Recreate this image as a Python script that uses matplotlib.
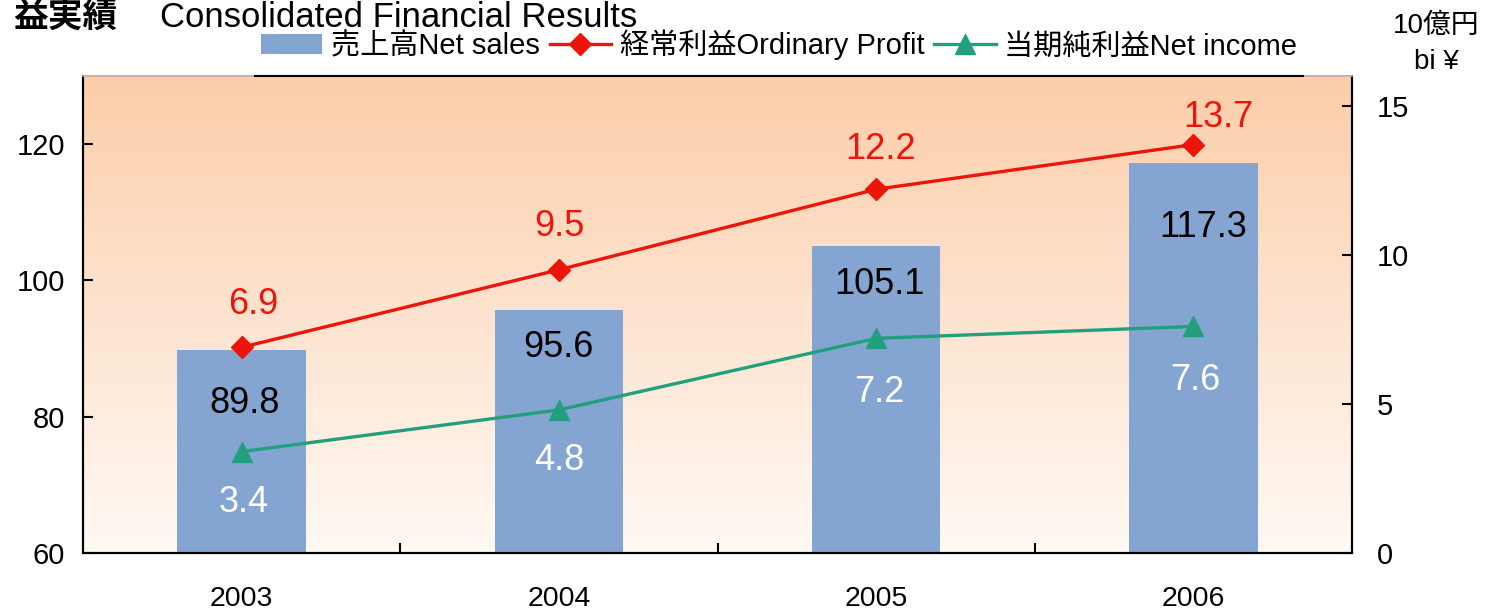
import numpy as np
import matplotlib.pyplot as plt
from matplotlib.lines import Line2D
from matplotlib.patches import Patch

# -----------------------------
# data
# -----------------------------
years = ["2003", "2004", "2005", "2006"]
net_sales = [89.8, 95.6, 105.1, 117.3]
ordinary_profit = [6.9, 9.5, 12.2, 13.7]
net_income = [3.4, 4.8, 7.2, 7.6]

# label offsets in pixels (dx, dy) relative to the mark
sales_off = [(3, -54), (0, -37), (3, -39), (10, -65)]
profit_off = [(12, 43), (0, 43), (4, 40), (25, 27)]
income_off = [(2, -51), (0, -51), (3, -54), (2, -54)]

bar_color = "#84A5D1"
red = "#EE1409"
green = "#22A07E"

plt.rcParams['font.family'] = ['Liberation Sans', 'Noto Sans CJK JP', 'DejaVu Sans']

W, H, DPI = 1485, 610, 100
fig = plt.figure(figsize=(W / DPI, H / DPI), dpi=DPI)
ax = fig.add_axes([83 / W, 1 - 553 / H, (1352 - 83) / W, (553 - 76) / H])
ax2 = ax.twinx()

x = np.arange(len(years))

# background gradient
grad = np.linspace(0, 1, 256).reshape(-1, 1)
top_c = np.array([252, 206, 170]) / 255
bot_c = np.array([255, 249, 244]) / 255
img = top_c * (1 - grad[..., None]) + bot_c * grad[..., None]
img = img.reshape(256, 1, 3)
ax.imshow(img, extent=[-0.5, 3.5, 60, 130], aspect="auto", origin="upper", zorder=0)

# bars
ax.bar(x, net_sales, width=0.405, color=bar_color, zorder=2)
ax.set_xlim(-0.5, 3.5)
ax.set_ylim(60, 130)
ax.set_yticks([60, 80, 100, 120])

# lines
ax2.plot(x, ordinary_profit, color=red, lw=2.4, marker="D", ms=11, zorder=3)
ax2.plot(x, net_income, color=green, lw=2.4, marker="^", ms=15, zorder=3)
ax2.set_ylim(0, 16)
ax2.set_yticks([0, 5, 10, 15])

px = 72 / DPI
for i in range(len(years)):
    ax.annotate(f"{net_sales[i]}", (x[i], net_sales[i]),
                xytext=(sales_off[i][0] * px, sales_off[i][1] * px),
                textcoords="offset points", ha="center", va="center",
                fontsize=26, color="black", zorder=4)
    ax2.annotate(f"{ordinary_profit[i]}", (x[i], ordinary_profit[i]),
                 xytext=(profit_off[i][0] * px, profit_off[i][1] * px),
                 textcoords="offset points", ha="center", va="center",
                 fontsize=26, color=red, zorder=4)
    ax2.annotate(f"{net_income[i]}", (x[i], net_income[i]),
                 xytext=(income_off[i][0] * px, income_off[i][1] * px),
                 textcoords="offset points", ha="center", va="center",
                 fontsize=26, color="white", zorder=4)

# ticks
ax.set_xticks([0.5, 1.5, 2.5])
ax.set_xticklabels([])
ax.set_xticks(x, minor=True)
ax.set_xticklabels(years, minor=True)
ax.tick_params(axis="x", which="major", direction="in", length=7, width=1.5)
ax.tick_params(axis="x", which="minor", length=0, pad=24, labelsize=20.5)
ax.tick_params(axis="y", direction="in", length=7, width=1.5, pad=13, labelsize=21)
ax2.tick_params(axis="y", direction="in", length=7, width=1.5, pad=18, labelsize=21)

for a in (ax, ax2):
    for s in a.spines.values():
        s.set_linewidth(1.5)
    a.spines["top"].set_color("#C8B2A2")
    a.spines["top"].set_linewidth(1.2)

# dark part of the top border (under legend)
fig.add_artist(Line2D([255 / W, 1303 / W], [1 - 76 / H, 1 - 76 / H],
                      color="black", lw=1.5, transform=fig.transFigure))

# titles
fig.text(118 / W, 1 - 27 / H, "益実績", ha="right", va="baseline",
         fontsize=25, fontweight="bold")
fig.text(160 / W, 1 - 27 / H, "Consolidated Financial Results", ha="left",
         va="baseline", fontsize=25)
fig.text(1436 / W, 1 - 26 / H, "10億円", ha="center", va="center", fontsize=20)
fig.text(1436 / W, 1 - 62 / H, "bi ¥", ha="center", va="center", fontsize=20)

# legend
handles = [
    Patch(facecolor=bar_color, edgecolor="none"),
    Line2D([], [], color=red, lw=2.4, marker="D", ms=11),
    Line2D([], [], color=green, lw=2.4, marker="^", ms=15),
]
labels = ["売上高Net sales", "経常利益Ordinary Profit", "当期純利益Net income"]
fig.legend(handles, labels, loc="center", bbox_to_anchor=(779 / W, 1 - 45 / H),
           ncol=3, frameon=False, fontsize=21, handlelength=2.1,
           handletextpad=0.3, columnspacing=0.35, borderaxespad=0)

fig.savefig("out.png", dpi=DPI)
